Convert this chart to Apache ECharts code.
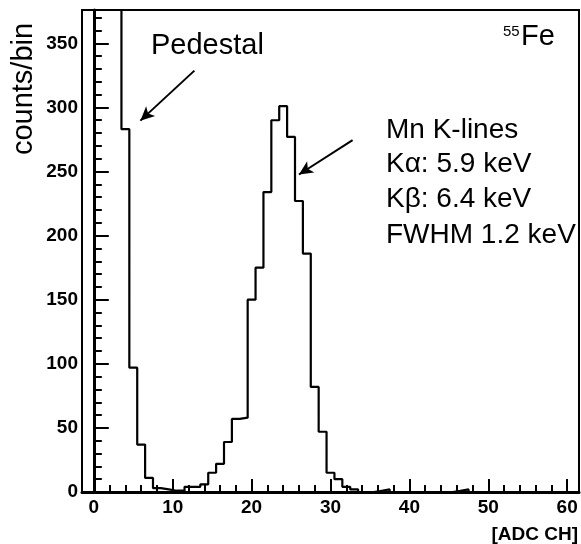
<!DOCTYPE html>
<html>
<head>
<meta charset="utf-8">
<script src="https://cdn.jsdelivr.net/npm/echarts@6/dist/echarts.min.js"></script>
<style>
  html, body { margin: 0; padding: 0; background: #fff; }
  #chart { width: 581px; height: 544px; }
</style>
</head>
<body>
<div id="chart"></div>
<script>
  // bin centres (ADC channel) and counts, bins are 1 channel wide
  var binStart = 3;
  var counts = [
    1500, 283, 97, 37, 11, 3, 2, 1, 1, 4,      // 3..12
    4, 6, 15, 22, 39, 57, 58, 150, 175, 234,   // 13..22
    290, 301, 277, 227, 186, 82, 47, 15, 10, 4, // 23..32
    2, 0, 0, 1, 2, 0, 0, 0, 0, 0,              // 33..42
    0, 0, 0, 1, 2, 0, 0, 0, 0, 0,              // 43..52
    0, 0, 0, 0, 0, 0, 0, 0, 0                  // 53..61
  ];
  var xMajor = [0, 10, 20, 30, 40, 50, 60];
  var xMinor = [2, 4, 6, 8, 12, 14, 16, 18, 22, 24, 26, 28, 32, 34, 36, 38, 42, 44, 46, 48, 52, 54, 56, 58];
  var yMajor = [0, 50, 100, 150, 200, 250, 300, 350];
  var yMinor = [10, 20, 30, 40, 60, 70, 80, 90, 110, 120, 130, 140, 160, 170, 180, 190,
    210, 220, 230, 240, 260, 270, 280, 290, 310, 320, 330, 340, 360, 370];
  // arrow annotations in data units: [from, to]
  var pedestalArrow = [[12.75, 328.7], [5.9, 289.7]];
  var peakArrow = [[32.8, 274.5], [26.0, 247.7]];

  // step outline: each bin gives its low and high edge
  var outline = [];
  for (var i = 0; i < counts.length; i++) {
    var c = binStart + i;
    outline.push([c - 0.5, counts[i]]);
    outline.push([c + 0.5, counts[i]]);
  }

  var font = '"Liberation Sans", Helvetica, Arial, sans-serif';
  var chart = echarts.init(document.getElementById('chart'));

  var option = {
    animation: false,
    grid: {
      left: 82, right: 2, top: 10, bottom: 52,
      show: true,
      borderColor: '#000',
      borderWidth: 2,
      backgroundColor: 'transparent'
    },
    xAxis: [{
      type: 'value',
      min: -1.5,
      max: 61.5,
      axisLine: { show: true, onZero: false, lineStyle: { color: '#000', width: 3 } },
      axisTick: { show: true, inside: true, length: 13, customValues: xMajor, lineStyle: { color: '#000', width: 2 } },
      axisLabel: {
        customValues: xMajor,
        margin: 6,
        color: '#000',
        fontFamily: font,
        fontWeight: 'bold',
        fontSize: 19
      },
      splitLine: { show: false }
    }, {
      type: 'value',
      min: -1.5,
      max: 61.5,
      position: 'bottom',
      axisLine: { show: false },
      axisTick: { show: true, inside: true, length: 7, customValues: xMinor, lineStyle: { color: '#000', width: 2 } },
      axisLabel: { show: false },
      splitLine: { show: false }
    }],
    yAxis: [{
      type: 'value',
      min: 0,
      max: 376,
      axisLine: { show: true, lineStyle: { color: '#000', width: 3 } },
      axisTick: { show: true, inside: true, length: 15, customValues: yMajor, lineStyle: { color: '#000', width: 2 } },
      axisLabel: {
        customValues: yMajor,
        margin: 4,
        color: '#000',
        fontFamily: font,
        fontWeight: 'bold',
        fontSize: 19
      },
      splitLine: { show: false }
    }, {
      type: 'value',
      min: 0,
      max: 376,
      position: 'left',
      axisLine: { show: false },
      axisTick: { show: true, inside: true, length: 8, customValues: yMinor, lineStyle: { color: '#000', width: 2 } },
      axisLabel: { show: false },
      splitLine: { show: false }
    }],
    series: [{
      name: '55Fe',
      type: 'line',
      data: outline,
      showSymbol: false,
      symbol: 'none',
      clip: true,
      lineStyle: { color: '#000', width: 2.2 },
      markLine: {
        silent: true,
        symbol: ['none', 'arrow'],
        symbolSize: [10, 14],
        label: { show: false },
        lineStyle: { color: '#000', width: 2, type: 'solid' },
        data: [
          [{ coord: pedestalArrow[0] }, { coord: pedestalArrow[1] }],
          [{ coord: peakArrow[0] }, { coord: peakArrow[1] }]
        ]
      }
    }],
    graphic: [
      {
        type: 'text', x: 24, y: 89,
        rotation: Math.PI / 2,
        style: { text: 'counts/bin', fontFamily: font, fontSize: 29, fill: '#000', align: 'center', verticalAlign: 'middle' }
      },
      {
        type: 'text', x: 578, y: 535,
        style: { text: '[ADC CH]', fontFamily: font, fontWeight: 'bold', fontSize: 19, fill: '#000', align: 'right', verticalAlign: 'middle' }
      },
      {
        type: 'text', x: 151, y: 60,
        style: { text: 'Pedestal', fontFamily: font, fontSize: 29, fill: '#000', align: 'left', verticalAlign: 'bottom' }
      },
      {
        type: 'text', x: 503, y: 39,
        style: { text: '55', fontFamily: font, fontSize: 15, fill: '#000', align: 'left', verticalAlign: 'bottom' }
      },
      {
        type: 'text', x: 521, y: 51,
        style: { text: 'Fe', fontFamily: font, fontSize: 29, fill: '#000', align: 'left', verticalAlign: 'bottom' }
      },
      {
        type: 'text', x: 386, y: 130,
        style: { text: 'Mn K-lines', fontFamily: font, fontSize: 28, fill: '#000', align: 'left', verticalAlign: 'middle' }
      },
      {
        type: 'text', x: 386, y: 164,
        style: { text: 'Kα: 5.9 keV', fontFamily: font, fontSize: 28, fill: '#000', align: 'left', verticalAlign: 'middle' }
      },
      {
        type: 'text', x: 386, y: 199,
        style: { text: 'Kβ: 6.4 keV', fontFamily: font, fontSize: 28, fill: '#000', align: 'left', verticalAlign: 'middle' }
      },
      {
        type: 'text', x: 386, y: 235,
        style: { text: 'FWHM 1.2 keV', fontFamily: font, fontSize: 28, fill: '#000', align: 'left', verticalAlign: 'middle' }
      }
    ]
  };
  chart.setOption(option);
</script>
</body>
</html>
